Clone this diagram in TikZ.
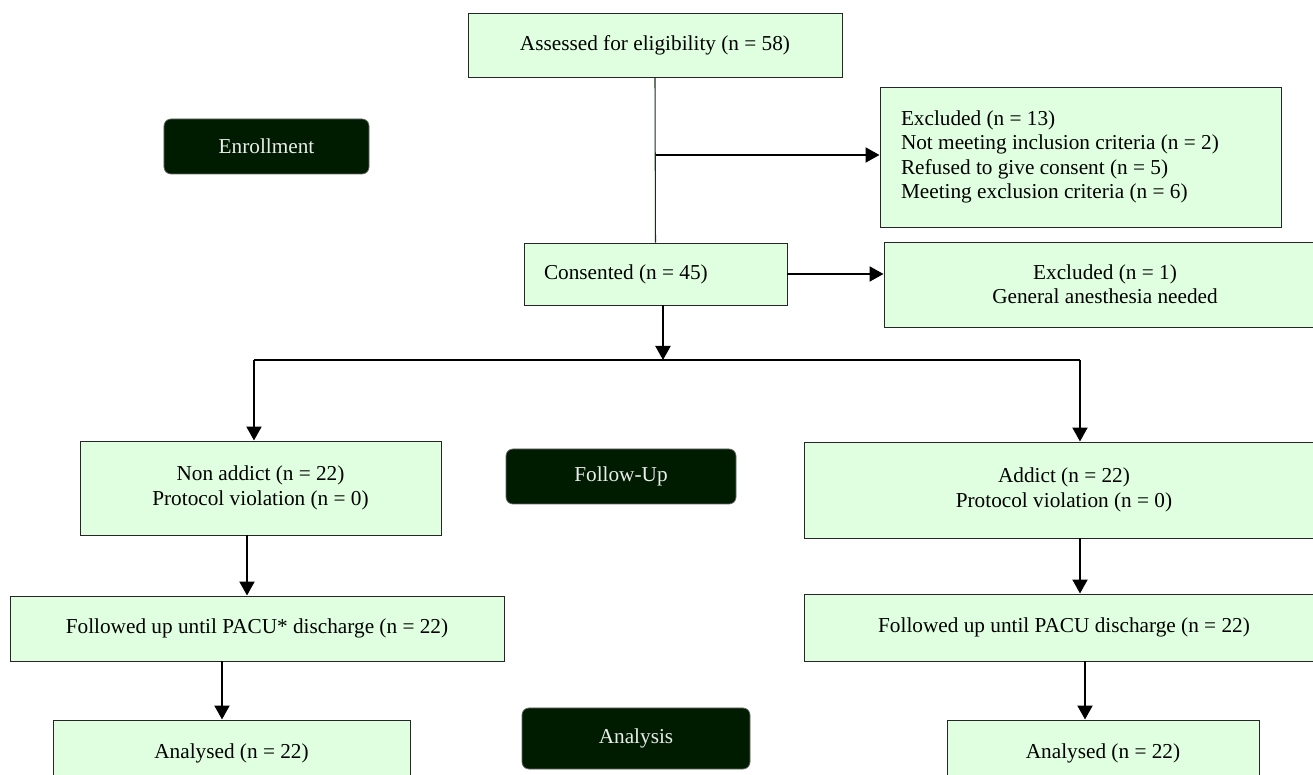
\documentclass[tikz,border=0pt]{standalone}
\usepackage{fontspec}
\setmainfont{Liberation Serif}
\usetikzlibrary{arrows.meta}
\definecolor{boxgreen}{HTML}{E0FFE0}
\definecolor{stagegreen}{HTML}{001C00}
\definecolor{stemgreen}{HTML}{1A2E1A}
\begin{document}
\begin{tikzpicture}[scale=0.2]
    \tikzstyle{every node}+=[inner sep=0pt, font=\fontsize{12.1}{13.9}\selectfont]
    \tikzstyle{box}=[draw=black!85, line width=0.55pt, fill=boxgreen, align=center]
    \tikzstyle{stage}=[draw=black!60, line width=0.4pt, fill=stagegreen, text=white!92!black, rounded corners=0.14cm]
    \tikzstyle{arr}=[black, line width=1.2pt, -{Triangle[length=0.28cm,width=0.3cm]}]
    \path[use as bounding box, clip] (0,0) rectangle (131.3,-77.5);
    \fill[white] (0,0) rectangle (131.3,-77.5);
    % stage labels
    \node [stage, minimum width=4.1cm, minimum height=1.1cm] (enroll) at (26.65,-14.65) {Enrollment};
    \node [stage, minimum width=4.6cm, minimum height=1.1cm] (fup) at (62.1,-47.65) {Follow-Up};
    \node [stage, minimum width=4.56cm, minimum height=1.22cm] (analysis) at (63.6,-73.85) {Analysis};
    % boxes
    \node [box, minimum width=7.48cm, minimum height=1.28cm] (assess) at (65.5,-4.5) {Assessed for eligibility (n = 58)};
    \node [box, align=flush left, text width=7.18cm, inner xsep=0.42cm, minimum height=2.8cm] (excl1) at (108.05,-15.7)
        {Excluded (n = 13)\\Not meeting inclusion criteria (n = 2)\\Refused to give consent (n = 5)\\Meeting exclusion criteria (n = 6)};
    \node [box, align=flush left, text width=4.46cm, inner xsep=0.4cm, minimum height=1.24cm] (consent) at (65.55,-27.4) {Consented (n = 45)};
    \node [box, minimum width=8.84cm, minimum height=1.7cm] (excl2) at (110.5,-28.45) {Excluded (n = 1)\\General anesthesia needed};
    \node [box, minimum width=7.22cm, minimum height=1.88cm] (nonadd) at (26.05,-48.8) {Non addict (n = 22)\\Protocol violation (n = 0)};
    \node [box, minimum width=10.4cm, minimum height=1.92cm] (addict) at (106.4,-49.0) {Addict (n = 22)\\Protocol violation (n = 0)};
    \node [box, minimum width=9.88cm, minimum height=1.3cm] (followL) at (25.7,-62.85) {Followed up until PACU* discharge (n = 22)};
    \node [box, minimum width=10.4cm, minimum height=1.34cm] (followR) at (106.4,-62.75) {Followed up until PACU discharge (n = 22)};
    \node [box, minimum width=7.14cm, minimum height=1.32cm] (analL) at (23.15,-75.3) {Analysed (n = 22)};
    \node [box, minimum width=6.24cm, minimum height=1.32cm] (analR) at (110.3,-75.3) {Analysed (n = 22)};
    % junctions
    \coordinate (tap) at (65.6,-15.5);
    \coordinate (split) at (66.3,-36);
    \coordinate (splitL) at (25.4,-36);
    \coordinate (splitR) at (108,-36);
    % connectors
    \draw [stemgreen, line width=0.6pt] (assess.south) -- (consent.north);
    \draw [arr] (tap) -- (tap -| excl1.west);
    \draw [arr] (consent.east) -- (consent.east -| excl2.west);
    \draw [arr] (consent.south -| split) -- (split);
    \draw [black, line width=1.2pt] (splitL) -- (splitR);
    \draw [arr] (splitL) -- (splitL |- nonadd.north);
    \draw [arr] (splitR) -- (splitR |- addict.north);
    \draw [arr] (nonadd.south -| 24.7,0) -- (followL.north -| 24.7,0);
    \draw [arr] (followL.south -| 22.2,0) -- (analL.north -| 22.2,0);
    \draw [arr] (addict.south -| 108,0) -- (followR.north -| 108,0);
    \draw [arr] (followR.south -| 108.5,0) -- (analR.north -| 108.5,0);
\end{tikzpicture}
\end{document}
